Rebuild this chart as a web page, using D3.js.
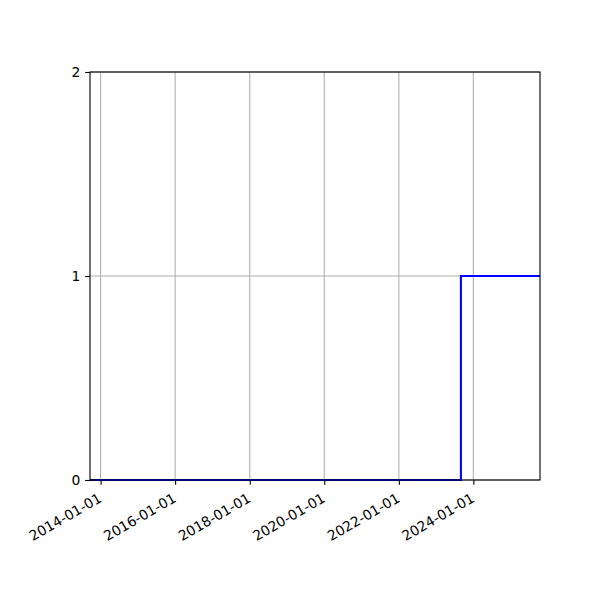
<!DOCTYPE html>
<html>
<head>
<meta charset="utf-8">
<script src="https://cdn.jsdelivr.net/npm/d3@7"></script>
<style>
  body { margin: 0; background: #fff; }
  text { font-family: "DejaVu Sans", sans-serif; }
</style>
</head>
<body>
<div id="chart"></div>
<script>
// step series (drawn as step-after)
const dates = ["2013-09-19", "2023-09-01", "2025-10-15"];
const values = [0, 1, 1];
const xTicks = ["2014-01-01", "2016-01-01", "2018-01-01", "2020-01-01", "2022-01-01", "2024-01-01"];
const yTicks = [0, 1, 2];

const parse = d3.timeParse("%Y-%m-%d");
const fmt = d3.timeFormat("%Y-%m-%d");
const data = dates.map((d, i) => ({ date: parse(d), value: values[i] }));

const width = 600, height = 600;
const margin = { top: 72, right: 60, bottom: 120, left: 90 };
const iw = width - margin.left - margin.right;
const ih = height - margin.top - margin.bottom;
const fs = 13.89;

const svg = d3.select("#chart").append("svg")
  .attr("width", width)
  .attr("height", height);

const g = svg.append("g")
  .attr("transform", "translate(" + margin.left + "," + margin.top + ")");

const x = d3.scaleTime()
  .domain(d3.extent(data, d => d.date))
  .range([0, iw]);
const y = d3.scaleLinear().domain([0, 2]).range([ih, 0]);

// grid
g.append("g").selectAll("line")
  .data(xTicks.map(parse))
  .enter().append("line")
  .attr("x1", d => x(d)).attr("x2", d => x(d))
  .attr("y1", 0).attr("y2", ih)
  .attr("stroke", "#b0b0b0").attr("stroke-width", 1.1);
g.append("g").selectAll("line")
  .data(yTicks)
  .enter().append("line")
  .attr("x1", 0).attr("x2", iw)
  .attr("y1", d => y(d)).attr("y2", d => y(d))
  .attr("stroke", "#b0b0b0").attr("stroke-width", 1.1);

// step line
const line = d3.line()
  .x(d => x(d.date))
  .y(d => y(d.value))
  .curve(d3.curveStepAfter);
g.append("path")
  .datum(data)
  .attr("d", line)
  .attr("fill", "none")
  .attr("stroke", "blue")
  .attr("stroke-width", 2.08);

// axes
const xAxis = g.append("g")
  .attr("transform", "translate(0," + ih + ")")
  .call(d3.axisBottom(x).tickValues(xTicks.map(parse)).tickFormat(fmt).tickSize(4.86).tickPadding(3));
xAxis.selectAll("text")
  .attr("font-size", fs)
  .attr("fill", "#000")
  .style("text-anchor", "end")
  .attr("x", 0)
  .attr("y", 0)
  .attr("dy", 0)
  .attr("transform", "translate(1.5,21) rotate(-30)");

const yAxis = g.append("g")
  .call(d3.axisLeft(y).tickValues(yTicks).tickFormat(d3.format("d")).tickSize(4.86).tickPadding(4.86));
yAxis.selectAll("text").attr("font-size", fs).attr("fill", "#000");

svg.selectAll(".domain").remove();
svg.selectAll(".tick line").attr("stroke", "#000").attr("stroke-width", 1.1);

// frame
g.append("rect")
  .attr("width", iw).attr("height", ih)
  .attr("fill", "none").attr("stroke", "#000").attr("stroke-width", 1.1);
</script>
</body>
</html>
